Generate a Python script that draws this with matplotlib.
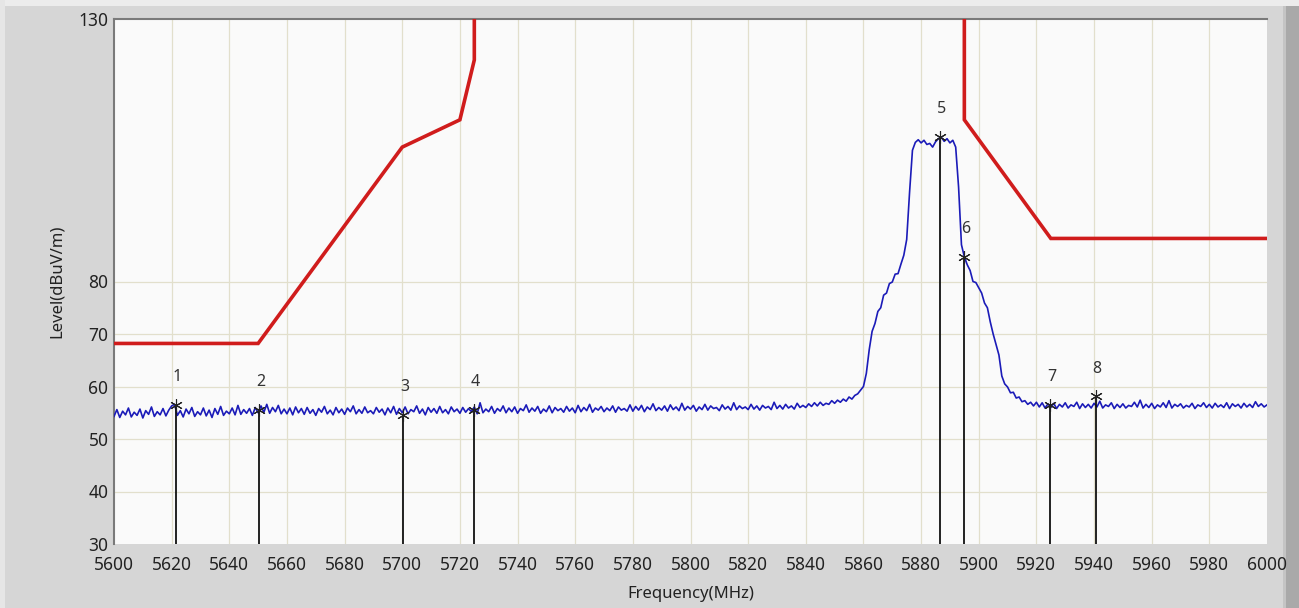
import numpy as np
import matplotlib
matplotlib.use("Agg")
import matplotlib.pyplot as plt
from matplotlib.patches import Rectangle

# ---------------- data ----------------
f_start, f_stop, f_step = 5600, 6000, 1  # sweep grid (MHz)

trace_5600 = [54.3, 55.6, 54.1, 55.3, 54.6, 55.9, 54.2, 55.1, 54.5, 55.7,
              54.0, 55.4, 54.7, 56.1, 54.3, 55.2, 54.6, 55.8, 54.4, 55.5,
              56.3, 56.6, 54.5, 55.4, 54.2, 55.7, 54.8, 56.0, 54.3, 55.2,
              54.6, 55.9, 54.4, 55.5, 54.1, 55.8, 54.7, 56.2, 54.5, 55.3,
              54.8, 55.9, 54.6, 56.4, 54.7, 55.6, 54.9, 55.8, 54.5, 56.0,
              55.0, 56.3, 55.1, 56.6, 54.9, 56.0, 55.2, 56.4, 54.8, 55.7]
trace_5660 = [54.8, 55.9, 54.6, 56.1, 55.0, 55.8, 54.7, 56.0, 54.9, 55.6,
              54.5, 55.8, 55.1, 56.2, 54.8, 55.5, 54.6, 56.0, 55.0, 55.7,
              54.7, 55.9, 55.2, 56.3, 54.8, 55.6, 54.9, 56.1, 55.0, 55.4,
              54.8, 56.0, 55.1, 55.7, 54.6, 55.9, 55.0, 56.2, 54.7, 55.8,
              55.0, 56.1, 54.8, 55.6, 55.2, 56.3, 54.9, 55.7, 54.6, 56.0,
              55.1, 55.8, 54.9, 56.2, 55.0, 55.6, 54.8, 56.1, 55.2, 55.7]
trace_5720 = [54.9, 56.0, 55.1, 55.8, 55.2, 56.1, 54.8, 56.9, 55.0, 55.7,
              55.2, 56.2, 54.9, 55.8, 55.3, 56.3, 55.0, 55.9, 55.2, 56.1,
              54.9, 55.8, 55.4, 56.5, 55.1, 55.9, 55.3, 56.2, 54.9, 55.7,
              55.2, 56.3, 55.0, 56.0, 55.4, 55.8, 55.1, 56.2, 55.3, 55.9,
              55.0, 56.4, 55.2, 56.0, 55.4, 56.6, 55.1, 55.9, 55.5, 56.2,
              55.2, 55.9, 55.4, 56.3, 55.1, 56.1, 55.5, 55.8, 55.3, 56.5]
trace_5780 = [55.3, 56.2, 55.5, 56.4, 55.2, 56.1, 55.6, 56.7, 55.4, 56.0,
              55.5, 56.3, 55.3, 56.5, 55.6, 56.1, 55.4, 56.8, 55.5, 56.2,
              55.7, 56.4, 55.3, 56.1, 55.6, 56.6, 55.5, 56.3, 55.8, 56.0,
              55.4, 56.5, 55.7, 56.2, 55.5, 56.9, 55.6, 56.3, 55.8, 56.1,
              55.6, 56.6, 55.7, 56.3, 55.5, 56.4, 55.9, 56.2, 55.6, 57.0,
              55.8, 56.4, 55.7, 56.6, 55.9, 56.3, 55.7, 56.8, 56.0, 56.4]
trace_5840 = [56.0, 56.7, 56.2, 56.9, 56.3, 57.0, 56.4, 56.8, 56.6, 57.3,
              56.8, 57.4, 57.0, 57.6, 57.2, 58.0, 57.6, 58.3, 58.6, 59.3]
trace_5860 = [60.0, 62.5, 67.0, 70.5, 72.0, 74.3, 75.0, 77.4, 77.8, 79.6,
              79.9, 81.4, 81.5, 83.3, 85.0, 88.0, 97.0, 105.0, 106.5, 107.0]
trace_5880 = [106.4, 106.9, 106.1, 106.3, 105.6, 106.6, 107.2, 107.5, 106.7, 107.2,
              106.4, 106.9, 105.6, 98.0, 87.0, 84.7, 83.2, 82.1, 80.0, 79.8]
trace_5900 = [78.8, 77.8, 75.9, 75.0, 72.3, 70.0, 68.0, 66.0, 62.0, 60.5,
              59.9, 58.8, 58.9, 57.8, 58.0, 57.1, 57.3, 56.6, 57.0, 56.3]
trace_5920 = [57.0, 56.1, 56.9, 55.9, 56.7, 56.0, 56.8, 55.8, 56.6, 56.1,
              56.9, 55.9, 56.5, 56.2, 57.0, 55.8, 56.7, 56.0, 56.6, 55.9,
              56.8, 56.1, 57.2, 55.9, 56.5, 56.2, 56.9, 55.8, 56.6, 56.0,
              56.7, 55.9, 56.4, 56.2, 57.0, 56.1, 57.4, 55.9, 56.6, 56.0,
              56.8, 55.8, 56.5, 56.1, 56.9, 56.0, 57.3, 55.9, 56.6, 56.2,
              56.7, 55.9, 56.4, 56.1, 56.8, 55.8, 56.5, 56.2, 56.9, 56.0,
              56.6, 55.9, 56.8, 56.1, 56.5, 56.0, 56.9, 55.8, 56.7, 56.2,
              56.6, 55.9, 56.8, 56.1, 56.6, 56.0, 57.1, 56.2, 56.7, 56.1,
              56.5]

# limit mask (red), two segments
mask_low_freq = [5600, 5650, 5700, 5720, 5725, 5725]
mask_low_level = [68.2, 68.2, 105.6, 110.8, 122.2, 130]
mask_high_freq = [5895, 5895, 5925, 6000]
mask_high_level = [130, 110.8, 88.2, 88.2]

# markers
marker_ids = ["1", "2", "3", "4", "5", "6", "7", "8"]
marker_freq = [5621.5, 5650.4, 5700.4, 5725.0, 5886.6, 5895.0, 5924.8, 5940.6]
marker_level = [56.5, 55.5, 54.6, 55.5, 107.6, 84.7, 56.5, 58.1]

x_ticks = [5600, 5620, 5640, 5660, 5680, 5700, 5720, 5740, 5760, 5780, 5800,
           5820, 5840, 5860, 5880, 5900, 5920, 5940, 5960, 5980, 6000]
y_ticks = [30, 40, 50, 60, 70, 80, 130]
y_grid = [40, 50, 60, 70, 80]

# ---------------- plotting ----------------
trace = np.array(trace_5600 + trace_5660 + trace_5720 + trace_5780 + trace_5840 +
                 trace_5860 + trace_5880 + trace_5900 + trace_5920)
freq = np.arange(f_start, f_stop + f_step, f_step)[:len(trace)]

plt.rcParams['font.family'] = ['Noto Sans', 'DejaVu Sans']
W, H = 1299, 608
fig = plt.figure(figsize=(W / 100, H / 100), dpi=100)
fig.patch.set_facecolor('#d6d6d6')

# window decorations
fig.add_artist(Rectangle((0, 1 - 6 / H), 1, 6 / H, transform=fig.transFigure,
                         facecolor='#ececec', edgecolor='none', zorder=0))
fig.add_artist(Rectangle((0, 0), 5 / W, 1, transform=fig.transFigure,
                         facecolor='#e6e6e6', edgecolor='none', zorder=0))
fig.add_artist(Rectangle((1283 / W, 0), 16 / W, 1 - 6 / H, transform=fig.transFigure,
                         facecolor='#a9a9a9', edgecolor='none', zorder=0))
fig.add_artist(Rectangle((1283 / W, 0), 3 / W, 1 - 6 / H, transform=fig.transFigure,
                         facecolor='#c4c4c4', edgecolor='none', zorder=0))

left, right, top, bottom = 114, 1267, 19, 544
ax = fig.add_axes([left / W, 1 - bottom / H, (right - left) / W, (bottom - top) / H])
ax.set_facecolor('#fafafa')
ax.set_xlim(5600, 6000)
ax.set_ylim(30, 130)

for xv in x_ticks[1:-1]:
    ax.axvline(xv, color='#e2dfcc', lw=0.9, zorder=1)
for yv in y_grid:
    ax.axhline(yv, color='#e2dfcc', lw=0.9, zorder=1)

ax.plot(mask_low_freq, mask_low_level, color='#d01c1c', lw=2.6, zorder=3,
        solid_joinstyle='miter')
ax.plot(mask_high_freq, mask_high_level, color='#d01c1c', lw=2.6, zorder=3,
        solid_joinstyle='miter')

ax.plot(freq, trace, color='#1b1bb8', lw=1.2, zorder=4)

for mid, mf, ml in zip(marker_ids, marker_freq, marker_level):
    ax.plot([mf, mf], [30, ml], color='#111111', lw=1.3, zorder=5)
    ax.plot([mf], [ml], marker=(6, 2, 0), ms=9, mew=0.8, color='#222222', zorder=6)
    ax.annotate(mid, (mf, ml), xytext=(1, 20), textcoords='offset points',
                ha='center', va='center', fontsize=11.5, color='#333333', zorder=6)

ax.set_xticks(x_ticks)
ax.set_xticklabels([str(v) for v in x_ticks])
ax.set_yticks(y_ticks)
ax.set_yticklabels([str(v) for v in y_ticks])
ax.tick_params(axis='both', length=0, labelsize=12.5, colors='#222222')
ax.tick_params(axis='x', pad=9)
ax.tick_params(axis='y', pad=4)

for s in ['bottom', 'right']:
    ax.spines[s].set_visible(False)
for s in ['left', 'top']:
    ax.spines[s].set_color('#7a7a7a')
    ax.spines[s].set_linewidth(1.5)

ax.set_xlabel('Frequency(MHz)', fontsize=12, color='#222222', labelpad=8)
ax.set_ylabel('Level(dBuV/m)', fontsize=12, color='#222222', labelpad=10)

fig.savefig('out.png', dpi=100, facecolor=fig.get_facecolor())
